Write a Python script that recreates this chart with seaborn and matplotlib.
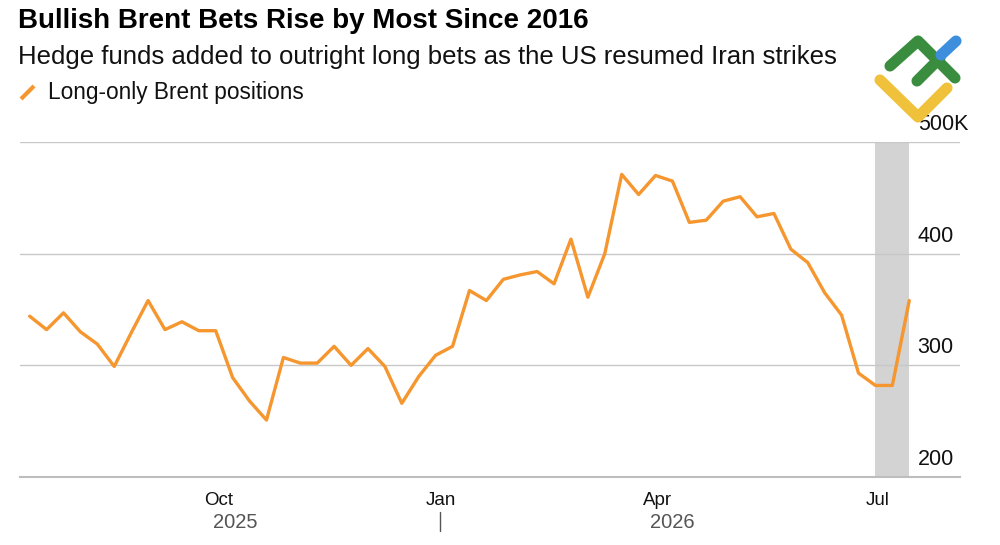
import matplotlib
matplotlib.use("Agg")
import matplotlib.pyplot as plt
import matplotlib.dates as mdates
from matplotlib.lines import Line2D
import matplotlib.transforms as mtransforms
import seaborn as sns
import pandas as pd

# weekly long-only Brent positions (thousands of contracts)
start_date = "2025-07-15"
positions = [344, 332, 347, 330, 319, 299, 329, 358, 332, 339, 331, 331,
             289, 268, 251, 307, 302, 302, 317, 300, 315, 299, 266, 290,
             309, 317, 367, 358, 377, 381, 384, 373, 413, 361, 400, 471,
             453, 470, 465, 428, 430, 447, 451, 433, 436, 404, 392, 365,
             345, 293, 282, 282, 358]
ytick_values = [200, 300, 400, 500]
ytick_labels = ["200", "300", "400", "500K"]
year_labels = ["2025", "2026"]
year_label_dates = ["2025-10-08", "2026-04-07"]
year_break = "2026-01-01"

df = pd.DataFrame({
    "date": pd.date_range(start_date, periods=len(positions), freq="7D"),
    "positions": positions,
})

sns.set_style("white")
plt.rcParams["font.family"] = ["Liberation Sans", "DejaVu Sans"]

W, H = 1000, 545
fig = plt.figure(figsize=(W / 100, H / 100), dpi=100)


def fx(px):
    return px / W


def fy(py):
    return 1 - py / H


ax = fig.add_axes([fx(20), fy(477), fx(960) - fx(20), fy(142) - fy(477)])

orange = "#F5962F"

# shaded area over the last two weeks
ax.axvspan(df["date"].iloc[-3], df["date"].iloc[-1], color="#d3d3d3", lw=0, zorder=0)

for v in ytick_values[1:]:
    ax.axhline(v, color="#c8c8c8", lw=1, zorder=1)

sns.lineplot(data=df, x="date", y="positions", ax=ax, color=orange,
             linewidth=2.4, zorder=3)

ax.set_ylim(200, 500)
ax.set_xlim(pd.Timestamp("2025-07-11"), pd.Timestamp("2026-08-04"))

for s in ["top", "left", "right"]:
    ax.spines[s].set_visible(False)
ax.spines["bottom"].set_color("#bdbdbd")
ax.spines["bottom"].set_linewidth(1.5)

ax.set_yticks([])
ax.set_xlabel("")
ax.set_ylabel("")

ax.xaxis.set_major_locator(mdates.MonthLocator(bymonth=[1, 4, 7, 10]))
ax.xaxis.set_minor_locator(mdates.MonthLocator())
ax.xaxis.set_major_formatter(mdates.DateFormatter("%b"))
ax.tick_params(axis="x", which="major", length=6.5, width=1, color="#333333",
               labelsize=13.5, pad=4, labelcolor="#111111")
ax.tick_params(axis="x", which="minor", length=3.5, width=1, color="#c0c0c0")

for v, lab in zip(ytick_values, ytick_labels):
    ax.annotate(lab, xy=(0.955, v), xycoords=("axes fraction", "data"),
                xytext=(0, 5), textcoords="offset points", ha="left",
                va="bottom", fontsize=15.5, color="#111111", annotation_clip=False)

# year labels under month labels
blend = mtransforms.blended_transform_factory(ax.transData, fig.transFigure)
for lab, d in zip(year_labels, year_label_dates):
    ax.text(mdates.date2num(pd.Timestamp(d)), fy(523), lab, transform=blend,
            ha="center", va="center", fontsize=14.5, color="#555555")
xb = mdates.date2num(pd.Timestamp(year_break))
fig.add_artist(Line2D([xb, xb], [fy(512), fy(531)], transform=blend,
                      color="#555555", lw=1))

# titles
fig.text(fx(18), fy(21), "Bullish Brent Bets Rise by Most Since 2016",
         fontsize=20, fontweight="bold", va="center", ha="left", color="#000000")
fig.text(fx(18), fy(57), "Hedge funds added to outright long bets as the US resumed Iran strikes",
         fontsize=18.5, va="center", ha="left", color="#111111")

# legend
fig.add_artist(Line2D([fx(21), fx(34)], [fy(99), fy(86)], color=orange, lw=3,
                      solid_capstyle="butt"))
fig.text(fx(48), fy(93), "Long-only Brent positions", fontsize=16.3,
         va="center", ha="left", color="#111111")

# logo watermark
logo = [
    ("#f0c23b", [(880, 80), (918, 117), (947, 88)]),
    ("#3a8d3f", [(890, 66), (918, 41), (955, 78)]),
    ("#3a8d3f", [(917, 81), (940, 58)]),
    ("#3d8fde", [(941, 55), (956, 41)]),
]
for col, pts in logo:
    xs = [fx(p[0]) for p in pts]
    ys = [fy(p[1]) for p in pts]
    fig.add_artist(Line2D(xs, ys, color=col, lw=8, solid_capstyle="round",
                          solid_joinstyle="round"))

fig.savefig("out.png", dpi=100)
